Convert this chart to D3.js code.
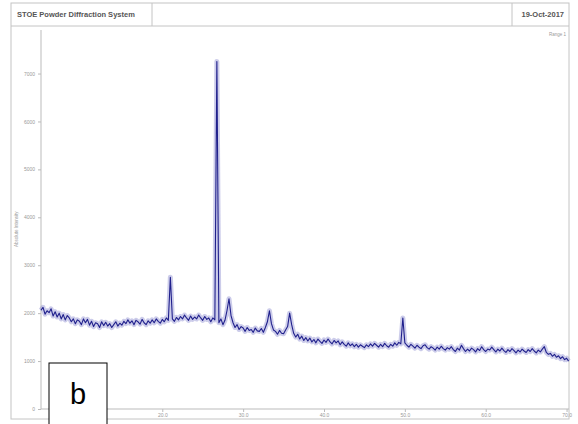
<!DOCTYPE html>
<html>
<head>
<meta charset="utf-8">
<script src="https://cdn.jsdelivr.net/npm/d3@7"></script>
<style>
  body { margin: 0; background: #fff; }
  svg { font-family: "Liberation Sans", Arial, sans-serif; }
</style>
</head>
<body>
<div id="container"></div>
<script>
/* CONSTANTS AND GLOBALS */
const width = 578;
const height = 424;

const titleText = "STOE Powder Diffraction System";
const dateText = "19-Oct-2017";
const rangeText = "Range 1";
const yTitle = "Absolute Intensity";
const panelLabel = "b";

/* DATA */
// 2theta start and step of the scan
const thetaStart = 5.0;
const thetaStep = 0.25;
// intensities, one per step (5.00 .. 70.25)
const counts = [
  2060, 2120, 1980, 2050, 2010, 2090, 1940, 2030,
  1920, 2000, 1880, 1970, 1860, 1950, 1900, 1820,
  1880, 1780, 1860, 1830, 1760, 1880, 1800, 1870,
  1750, 1830, 1720, 1800, 1780, 1700, 1820, 1740,
  1810, 1730, 1780, 1700, 1760, 1820, 1730, 1790,
  1750, 1830, 1780, 1860, 1790, 1840, 1760, 1850,
  1820, 1770, 1870, 1800, 1760, 1840, 1790, 1860,
  1800, 1880, 1830, 1790, 1870, 1820, 1900, 1850,
  2750, 1880, 1830, 1910, 1860, 1930, 1880, 1960,
  1900, 1850, 1940, 1870, 1920, 1880, 1960, 1900,
  1850, 1930, 1870, 1900, 1820, 1900, 1860, 7250,
  1800, 1880, 1760, 1850, 2050, 2300, 1950, 1800,
  1700, 1760, 1660, 1720, 1690, 1620, 1700, 1640,
  1660, 1600, 1690, 1630, 1620, 1680, 1600, 1700,
  1820, 2050, 1780, 1650, 1620, 1560, 1640, 1580,
  1570, 1650, 1720, 2000, 1760, 1580, 1500, 1560,
  1460, 1520, 1430, 1490, 1420, 1480, 1400, 1450,
  1380, 1460, 1410, 1370, 1440, 1390, 1460, 1400,
  1360, 1430, 1380, 1420, 1340, 1400, 1350, 1310,
  1380, 1320, 1360, 1300, 1350, 1290, 1340, 1310,
  1280, 1340, 1300, 1360, 1310, 1370, 1330, 1290,
  1350, 1300, 1370, 1320, 1290, 1350, 1310, 1380,
  1330, 1390, 1360, 1900, 1380, 1330, 1290, 1350,
  1310, 1270, 1330, 1290, 1260, 1320, 1340, 1280,
  1250, 1300, 1270, 1230, 1290, 1250, 1310, 1260,
  1230, 1280, 1250, 1300, 1240, 1200, 1270, 1230,
  1330, 1260, 1200, 1250, 1210, 1270, 1240, 1190,
  1260, 1220, 1300, 1240, 1200, 1250, 1230, 1290,
  1240, 1190, 1250, 1210, 1270, 1220, 1180, 1240,
  1200, 1260, 1220, 1170, 1230, 1190, 1250, 1210,
  1180, 1240, 1200, 1260, 1210, 1170, 1230, 1190,
  1250, 1300, 1180, 1140, 1160, 1100, 1140, 1080,
  1110, 1050, 1090, 1030, 1060, 1000
];

const xTicks = [20, 30, 40, 50, 60, 70];
const yTicks = [0, 1000, 2000, 3000, 4000, 5000, 6000, 7000];

const data = counts.map((c, i) => ({ theta: thetaStart + i * thetaStep, count: c }));

/* SCALES */
const xScale = d3.scaleLinear()
  .domain([5, 70.3])
  .range([41, 569]);

const yScale = d3.scaleLinear()
  .domain([0, 7700])
  .range([409, 40]);

const svg = d3.select('#container')
  .append('svg')
  .attr('width', width)
  .attr('height', height);

svg.append('rect')
  .attr('width', width).attr('height', height)
  .attr('fill', '#fff');

/* FRAME */
const grey = '#c4c4c4';
svg.append('rect')
  .attr('x', 11).attr('y', 3).attr('width', 558).attr('height', 416)
  .attr('fill', 'none').attr('stroke', grey);
svg.append('line')
  .attr('x1', 11).attr('x2', 569).attr('y1', 26).attr('y2', 26)
  .attr('stroke', grey);
svg.append('line')
  .attr('x1', 152).attr('x2', 152).attr('y1', 3).attr('y2', 26)
  .attr('stroke', grey);
svg.append('line')
  .attr('x1', 512).attr('x2', 512).attr('y1', 3).attr('y2', 26)
  .attr('stroke', grey);

svg.append('text')
  .attr('x', 17).attr('y', 17)
  .attr('font-size', 7.5).attr('font-weight', 'bold').attr('fill', '#555')
  .text(titleText);
svg.append('text')
  .attr('x', 564).attr('y', 17)
  .attr('text-anchor', 'end')
  .attr('font-size', 7.5).attr('font-weight', 'bold').attr('fill', '#555')
  .text(dateText);
svg.append('text')
  .attr('x', 566).attr('y', 36)
  .attr('text-anchor', 'end')
  .attr('font-size', 4.5).attr('fill', '#999')
  .text(rangeText);

/* AXES */
const yAxis = svg.append('g')
  .attr('transform', 'translate(41,0)')
  .call(d3.axisLeft(yScale).tickValues(yTicks).tickSize(3).tickFormat(d3.format('d')));

const xAxis = svg.append('g')
  .attr('transform', 'translate(0,409)')
  .call(d3.axisBottom(xScale).tickValues(xTicks).tickSize(3).tickFormat(d3.format('.1f')));

[xAxis, yAxis].forEach(g => {
  g.selectAll('path, line').attr('stroke', '#bbb');
  g.selectAll('text').attr('fill', '#999').attr('font-size', 5);
});
yAxis.select('.domain').attr('d', 'M0,30V409');
xAxis.select('.domain').attr('d', 'M41,0H569');
xAxis.selectAll('text').attr('dy', '0.4em');

svg.append('text')
  .attr('transform', 'translate(18,' + yScale(3750) + ') rotate(-90)')
  .attr('text-anchor', 'middle')
  .attr('font-size', 4.5).attr('fill', '#999')
  .text(yTitle);

/* PATTERN */
const line = d3.line()
  .x(d => xScale(d.theta))
  .y(d => yScale(d.count));

// soft halo that gives the noisy trace its thickness
svg.append('path')
  .datum(data)
  .attr('d', line)
  .attr('fill', 'none')
  .attr('stroke', '#6c6cc4')
  .attr('stroke-opacity', 0.35)
  .attr('stroke-width', 5)
  .attr('stroke-linejoin', 'round');

svg.append('path')
  .datum(data)
  .attr('d', line)
  .attr('fill', 'none')
  .attr('stroke', '#20208c')
  .attr('stroke-width', 1.1)
  .attr('stroke-linejoin', 'round');

/* PANEL LABEL */
svg.append('rect')
  .attr('x', 49).attr('y', 363).attr('width', 58).attr('height', 70)
  .attr('fill', '#fff').attr('stroke', '#000');
svg.append('text')
  .attr('x', 78).attr('y', 404)
  .attr('text-anchor', 'middle')
  .attr('font-size', 29).attr('fill', '#000')
  .text(panelLabel);
</script>
</body>
</html>
